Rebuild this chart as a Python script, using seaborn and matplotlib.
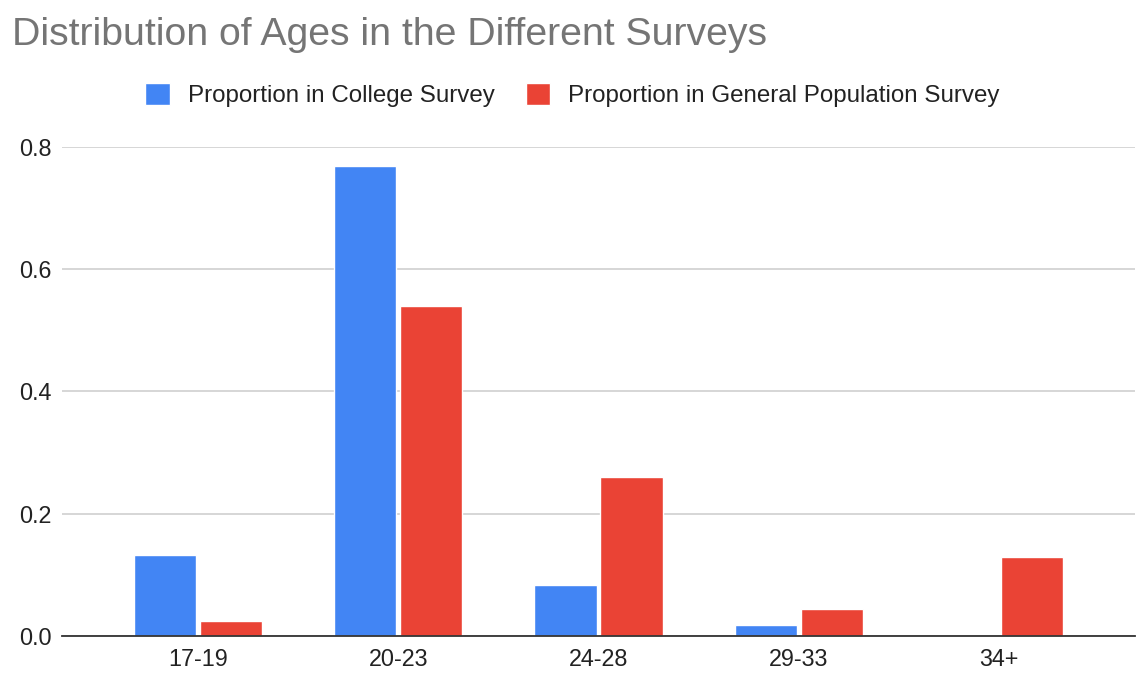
import matplotlib
matplotlib.use("Agg")
import matplotlib.pyplot as plt
import seaborn as sns
import pandas as pd

# Age groups and the share of respondents in each survey
age_groups = ["17-19", "20-23", "24-28", "29-33", "34+"]
college_share = [0.1326, 0.769, 0.083, 0.0175, 0.0]
general_share = [0.0246, 0.540, 0.260, 0.0437, 0.129]
series_names = ["Proportion in College Survey", "Proportion in General Population Survey"]
y_ticks = [0.0, 0.2, 0.4, 0.6, 0.8]

df = pd.DataFrame({
    "Age": age_groups * 2,
    "Proportion": college_share + general_share,
    "Survey": [series_names[0]] * len(age_groups) + [series_names[1]] * len(age_groups),
})

sns.set_style("white")
plt.rcParams["font.family"] = ["Liberation Sans", "DejaVu Sans"]

W, H = 1143, 687
fig = plt.figure(figsize=(W / 100, H / 100), dpi=100)
ax = fig.add_axes([62 / W, 1 - 636 / H, (1135 - 62) / W, (636 - 147) / H])

palette = {series_names[0]: "#4285F4", series_names[1]: "#EA4335"}
sns.barplot(data=df, x="Age", y="Proportion", hue="Survey", order=age_groups,
            hue_order=series_names, palette=palette, width=0.66, gap=0.06,
            saturation=1, ax=ax, zorder=3)

ax.set_xlim(-0.68, 4.68)
ax.set_ylim(0, 0.8)
ax.set_yticks(y_ticks)
ax.set_yticklabels([f"{t:.1f}" for t in y_ticks])
ax.yaxis.grid(True, color="#cccccc", linewidth=1.1, zorder=0)
ax.set_xlabel("")
ax.set_ylabel("")
for side in ["top", "right", "left"]:
    ax.spines[side].set_visible(False)
ax.spines["bottom"].set_color("#333333")
ax.spines["bottom"].set_linewidth(1.3)
ax.spines["bottom"].set_zorder(4)
ax.tick_params(axis="both", length=0, labelsize=16.8, labelcolor="#222222")
ax.tick_params(axis="x", pad=8.3)
ax.tick_params(axis="y", pad=7.2)

sns.move_legend(ax, "center", bbox_to_anchor=(0.501, 1 - 95 / H),
                bbox_transform=fig.transFigure, ncol=2, frameon=False,
                title=None, fontsize=17.4, handlelength=1.0, handleheight=1.0,
                handletextpad=0.75, columnspacing=1.3, borderpad=0)
for t in ax.get_legend().get_texts():
    t.set_color("#222222")

fig.text(12 / W, 1 - 45 / H, "Distribution of Ages in the Different Surveys",
         fontsize=28.3, color="#757575", ha="left", va="baseline")

fig.savefig("out.png", dpi=100)
